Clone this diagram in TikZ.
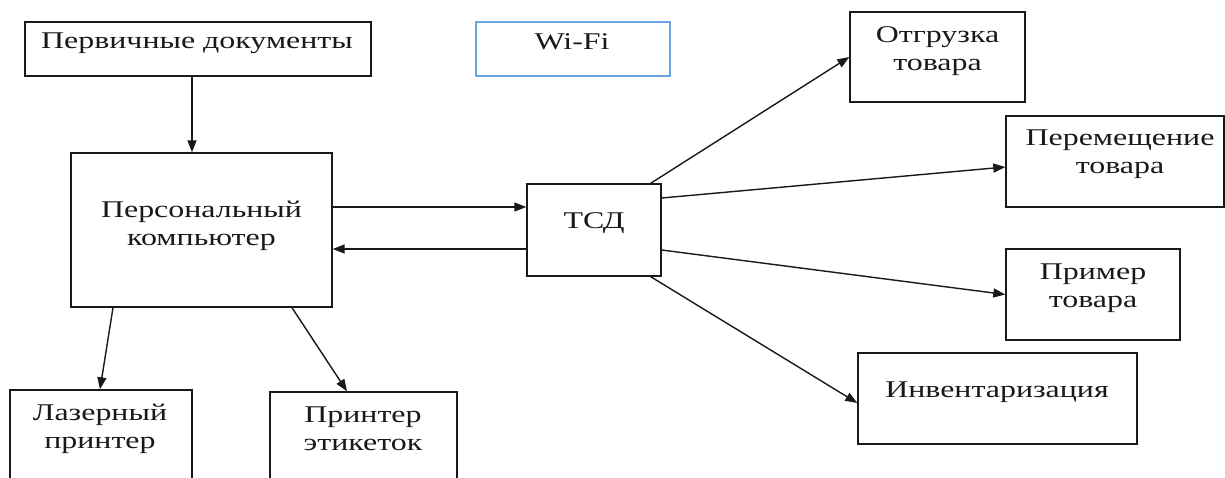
\documentclass[tikz,border=0pt]{standalone}
\usepackage{fontspec}
\setmainfont[FakeStretch=1.33]{Liberation Serif}
\usetikzlibrary{arrows.meta}
\definecolor{wifiblue}{RGB}{110,165,225}
\definecolor{ink}{RGB}{25,25,25}
\tikzset{
  box/.style={draw=ink, line width=1.4pt, inner sep=0pt, rectangle},
  lbl/.style={font=\fontsize{24}{28}\selectfont, align=center, inner sep=0pt, text=ink},
  arr/.style={draw=ink, line width=1.4pt, -{Triangle[length=12pt,width=9pt]}}
}
\begin{document}
\begin{tikzpicture}[x=1pt,y=-1pt]
\useasboundingbox (0,0) rectangle (1225,477);
\clip (0,0) rectangle (1225,477);
\fill[white] (0,0) rectangle (1225,477);
% boxes
\node[box, minimum width=346pt, minimum height=54pt] (doc) at (198,49) {};
\node[box, draw=wifiblue, minimum width=194pt, minimum height=54pt] (wifi) at (573,49) {};
\node[box, minimum width=261pt, minimum height=154pt] (pc) at (201.5,230) {};
\node[box, minimum width=134pt, minimum height=92pt] (tsd) at (594,230) {};
\node[box, minimum width=175pt, minimum height=90pt] (otg) at (937.5,57) {};
\node[box, minimum width=218pt, minimum height=91pt] (per) at (1115,161.5) {};
\node[box, minimum width=174pt, minimum height=91pt] (prim) at (1093,294.5) {};
\node[box, minimum width=279pt, minimum height=91pt] (inv) at (997.5,398.5) {};
\node[box, minimum width=182pt, minimum height=100pt] (las) at (101,440) {};
\node[box, minimum width=187pt, minimum height=100pt] (pet) at (363.5,442) {};
% labels
\node[lbl] (tdoc) at (197,43) {Первичные документы};
\node[lbl] (twifi) at (572,42) {Wi-Fi};
\node[lbl] (tpc) at (201.5,226) {Персональный\\компьютер};
\node[lbl] (ttsd) at (594,223) {ТСД};
\node[lbl] (totg) at (937.5,51) {Отгрузка\\товара};
\node[lbl] (tper) at (1120,154) {Перемещение\\товара};
\node[lbl] (tprim) at (1093,288) {Пример\\товара};
\node[lbl] (tinv) at (997,392) {Инвентаризация};
\node[lbl] (tlas) at (100,429) {Лазерный\\принтер};
\node[lbl] (tpet) at (363,429) {Принтер\\этикеток};
% connectors
\draw[arr] ([xshift=-6pt]doc.south) -- ([xshift=-6pt]doc.south |- pc.north);
\draw[arr] ([yshift=23pt]pc.east) -- ([yshift=23pt]pc.east -| tsd.west);
\draw[arr] ([yshift=-19pt]tsd.west) -- ([yshift=-19pt]tsd.west -| pc.east);
\draw[arr] ([xshift=-11pt]tsd.north east) -- (otg.west);
\draw[arr] ([yshift=32pt]tsd.east) -- ([yshift=-5.5pt]per.west);
\draw[arr] ([yshift=-20pt]tsd.east) -- (prim.west);
\draw[arr] ([xshift=-11pt]tsd.south east) -- ([yshift=-4.5pt]inv.west);
\draw[arr] ([xshift=-88.5pt]pc.south) -- ([xshift=-1pt]las.north);
\draw[arr] ([xshift=90.5pt]pc.south) -- ([xshift=-16.5pt]pet.north);
\end{tikzpicture}
\end{document}
